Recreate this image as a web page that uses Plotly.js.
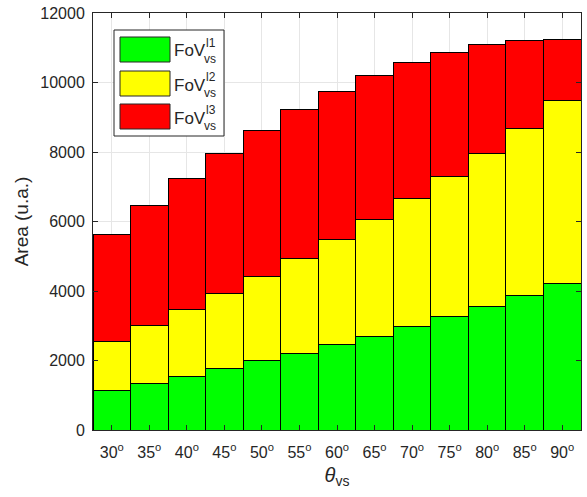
<!DOCTYPE html>
<html><head><meta charset="utf-8">
<script src="https://cdn.plot.ly/plotly-3.0.1.min.js"></script>
<style>body{margin:0;padding:0;background:#fff}#chart{width:587px;height:497px}</style>
</head><body><div id="chart"></div>
<script>
const angles = ['30','35','40','45','50','55','60','65','70','75','80','85','90'];
const tickLabels = angles.map(a => a + '<sup>o</sup>');
const yTicks = [0,2000,4000,6000,8000,10000,12000];
const yTickLabels = yTicks.map(String);
const fovL1 = [1125,1327,1530,1760,1990,2192,2450,2682,2965,3255,3548,3865,4211];
const fovL2 = [1415,1673,1930,2165,2425,2740,3030,3373,3695,4042,4413,4817,5279];
const fovL3 = [3085,3461,3780,4036,4209,4298,4269,4156,3920,3577,3144,2538,1759];
const seriesNames = ['l1','l2','l3'];
const colors = ['#00ff00','#ffff00','#ff0000'];

const mk = (y, c, n) => ({type:'bar', x: angles, y: y, name: n,
  marker:{color:c, line:{color:'#000', width:1}}, showlegend:false, hoverinfo:'y'});
const data = [mk(fovL1,colors[0],seriesNames[0]), mk(fovL2,colors[1],seriesNames[1]), mk(fovL3,colors[2],seriesNames[2])];

const font = {family:'Liberation Sans, Arial, sans-serif', color:'#262626'};
const shapes = [];
const annotations = [];
const W = 587, H = 497, L = 93, R = 6, T = 13, B = 67;
const pw = W-L-R, ph = H-T-B;
const px = x => (x - L)/pw, py = y => 1 - (y - T)/ph;
shapes.push({type:'rect', xref:'paper', yref:'paper', x0:px(114), x1:px(224), y0:py(136), y1:py(30),
  line:{color:'#262626', width:1}, fillcolor:'#fff', layer:'above'});
const rows = [37, 71, 104];
rows.forEach((y, i) => {
  shapes.push({type:'rect', xref:'paper', yref:'paper', x0:px(120), x1:px(170), y0:py(y+25), y1:py(y),
    line:{color:'#262626', width:1}, fillcolor:colors[i], layer:'above'});
  annotations.push({xref:'paper', yref:'paper', x:px(172), y:py(y+14), xanchor:'left', yanchor:'middle',
    text:'FoV', showarrow:false, font:{...font, size:17}});
  annotations.push({xref:'paper', yref:'paper', x:px(204), y:py(y+6), xanchor:'left', yanchor:'middle',
    text:seriesNames[i], showarrow:false, font:{...font, size:12}});
  annotations.push({xref:'paper', yref:'paper', x:px(202), y:py(y+22), xanchor:'left', yanchor:'middle',
    text:'vs', showarrow:false, font:{...font, size:12}});
});

const layout = {
  width: W, height: H,
  margin:{l:L, r:R, t:T, b:B, pad:0},
  barmode:'stack', bargap:0,
  paper_bgcolor:'#fff', plot_bgcolor:'#fff',
  font:{...font, size:16},
  showlegend:false,
  xaxis:{type:'category', tickvals: angles, ticktext: tickLabels, range:[-0.5,12.5],
    ticks:'inside', ticklen:5, tickcolor:'#262626', showline:true, linecolor:'#262626', linewidth:1,
    mirror:'ticks', showgrid:true, gridcolor:'#e6e6e6', tickfont:{...font, size:16}, ticklabelstandoff:8,
    title:{text:'<i>θ</i><sub>vs</sub>', font:{...font, size:20}, standoff:7}},
  yaxis:{range:[0,12000], tickvals:yTicks, ticktext:yTickLabels,
    ticks:'inside', ticklen:5, tickcolor:'#262626', showline:true, linecolor:'#262626', linewidth:1,
    mirror:'ticks', showgrid:true, gridcolor:'#e6e6e6', zeroline:false, tickfont:{...font, size:16},
    ticklabelstandoff:4,
    title:{text:'Area (u.a.)', font:{...font, size:19}, standoff:6}},
  shapes: shapes, annotations: annotations
};
Plotly.newPlot('chart', data, layout, {displayModeBar:false, staticPlot:true});
</script></body></html>
